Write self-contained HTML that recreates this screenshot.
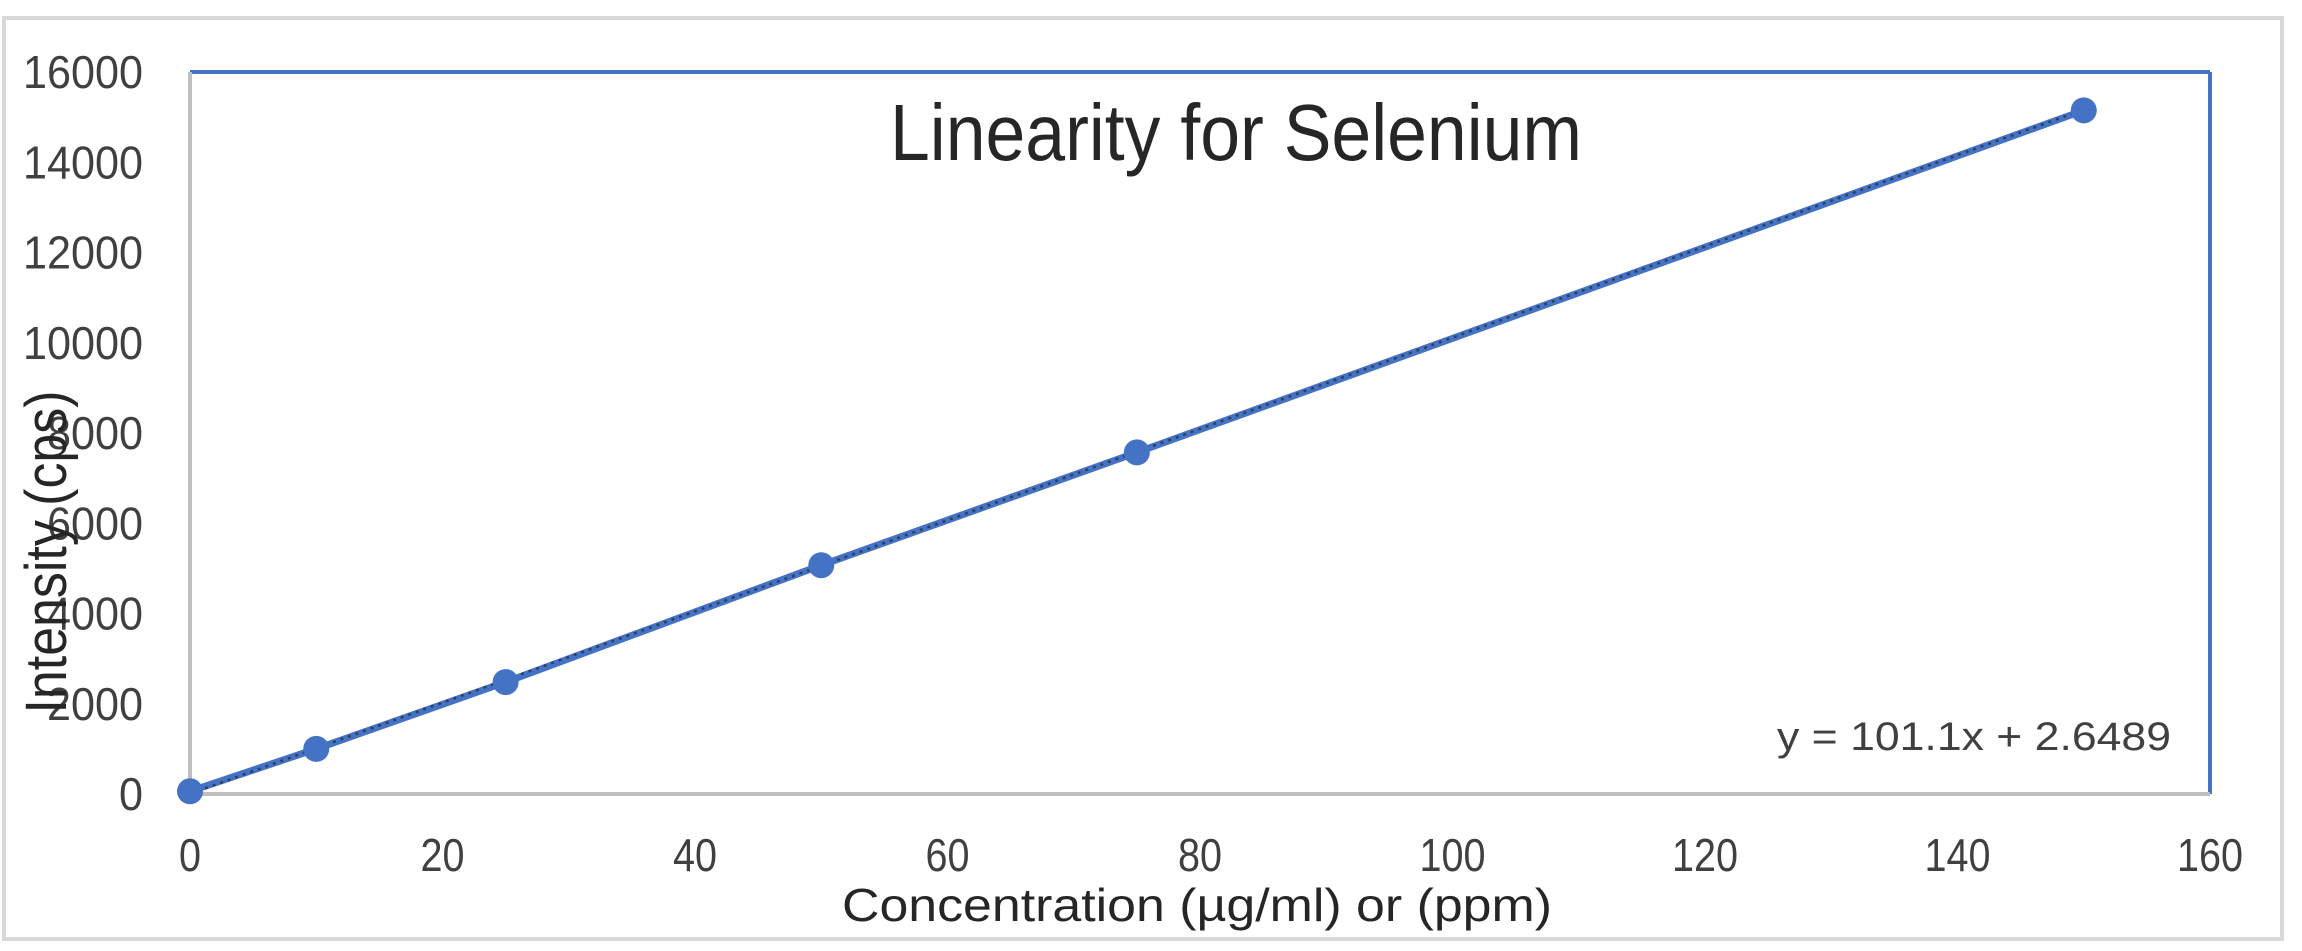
<!DOCTYPE html>
<html><head><meta charset="utf-8"><style>
html,body{margin:0;padding:0;background:#fff;}
svg{display:block;font-family:"Liberation Sans",sans-serif;}
</style></head><body>
<svg id="chart" width="2302" height="951" viewBox="0 0 2302 951" xmlns="http://www.w3.org/2000/svg">
<rect x="4" y="18" width="2278" height="921" fill="#fff" stroke="#d9d9d9" stroke-width="4"/>
<text x="1236" y="160" text-anchor="middle" font-size="80" fill="#262626" textLength="692" lengthAdjust="spacingAndGlyphs">Linearity for Selenium</text>
<g id="axes"></g>
<g id="marks"></g>
<text x="1777" y="750" font-size="40" fill="#404040" textLength="394" lengthAdjust="spacingAndGlyphs">y = 101.1x + 2.6489</text>
<text x="1197" y="921" text-anchor="middle" font-size="46" fill="#262626" textLength="710" lengthAdjust="spacingAndGlyphs">Concentration (µg/ml) or (ppm)</text>
<text transform="translate(66,552) rotate(-90)" text-anchor="middle" font-size="58" fill="#262626" textLength="323" lengthAdjust="spacingAndGlyphs">Intensity (cps)</text>
</svg>
<script>
const concentrations = [0, 10, 25, 50, 75, 150];
const intensities = [60, 1000, 2480, 5070, 7570, 15150];
const xTicks = [0, 20, 40, 60, 80, 100, 120, 140, 160];
const yTicks = [0, 2000, 4000, 6000, 8000, 10000, 12000, 14000, 16000];
const slope = 101.1, intercept = 2.6489;

const NS = "http://www.w3.org/2000/svg";
const L = 190, R = 2210, T = 72, B = 794;
const xMin = 0, xMax = 160, yMin = 0, yMax = 16000;
const sx = v => L + (v - xMin) / (xMax - xMin) * (R - L);
const sy = v => B - (v - yMin) / (yMax - yMin) * (B - T);
function mk(tag, attrs, parent) {
  const e = document.createElementNS(NS, tag);
  for (const k in attrs) e.setAttribute(k, attrs[k]);
  parent.appendChild(e);
  return e;
}
const axes = document.getElementById('axes');
const marks = document.getElementById('marks');

const topB = mk('line', {x1: L, y1: T, x2: R, y2: T, stroke: '#4472c4', 'stroke-width': 4}, axes);


const rightB = mk('line', {x1: R, y1: T, x2: R, y2: B, stroke: '#4472c4', 'stroke-width': 4}, axes);


const yAxis = mk('line', {x1: L, y1: T, x2: L, y2: B, stroke: '#bfbfbf', 'stroke-width': 4}, axes);


const xAxis = mk('line', {x1: L, y1: B, x2: R, y2: B, stroke: '#bfbfbf', 'stroke-width': 4}, axes);



xTicks.forEach(v => {
  const s = String(v);
  const t = mk('text', {x: sx(v), y: 871, 'text-anchor': 'middle', 'font-size': 46, fill: '#404040', textLength: 22 * s.length, lengthAdjust: 'spacingAndGlyphs'}, axes);
  t.textContent = s;
  
  
});
yTicks.forEach(v => {
  const s = String(v);
  const t = mk('text', {x: 143, y: sy(v) + 16, 'text-anchor': 'end', 'font-size': 46, fill: '#404040', textLength: 24 * s.length, lengthAdjust: 'spacingAndGlyphs'}, axes);
  t.textContent = s;
  
  
});

const pts = concentrations.map((c, i) => sx(c) + ',' + sy(intensities[i])).join(' ');
const line = mk('polyline', {points: pts, fill: 'none', stroke: '#4472c4', 'stroke-width': 7, 'stroke-linejoin': 'round'}, marks);



const x0 = concentrations[0], x1 = concentrations[concentrations.length - 1];
const trend = mk('line', {x1: sx(x0), y1: sy(slope * x0 + intercept), x2: sx(x1), y2: sy(slope * x1 + intercept), stroke: '#2f3f5f', 'stroke-width': 2.5, 'stroke-dasharray': '3 5'}, marks);



concentrations.forEach((c, i) => {
  const p = mk('circle', {cx: sx(c), cy: sy(intensities[i]), r: 13, fill: '#4472c4'}, marks);
  
  
});
</script>
</body></html>
